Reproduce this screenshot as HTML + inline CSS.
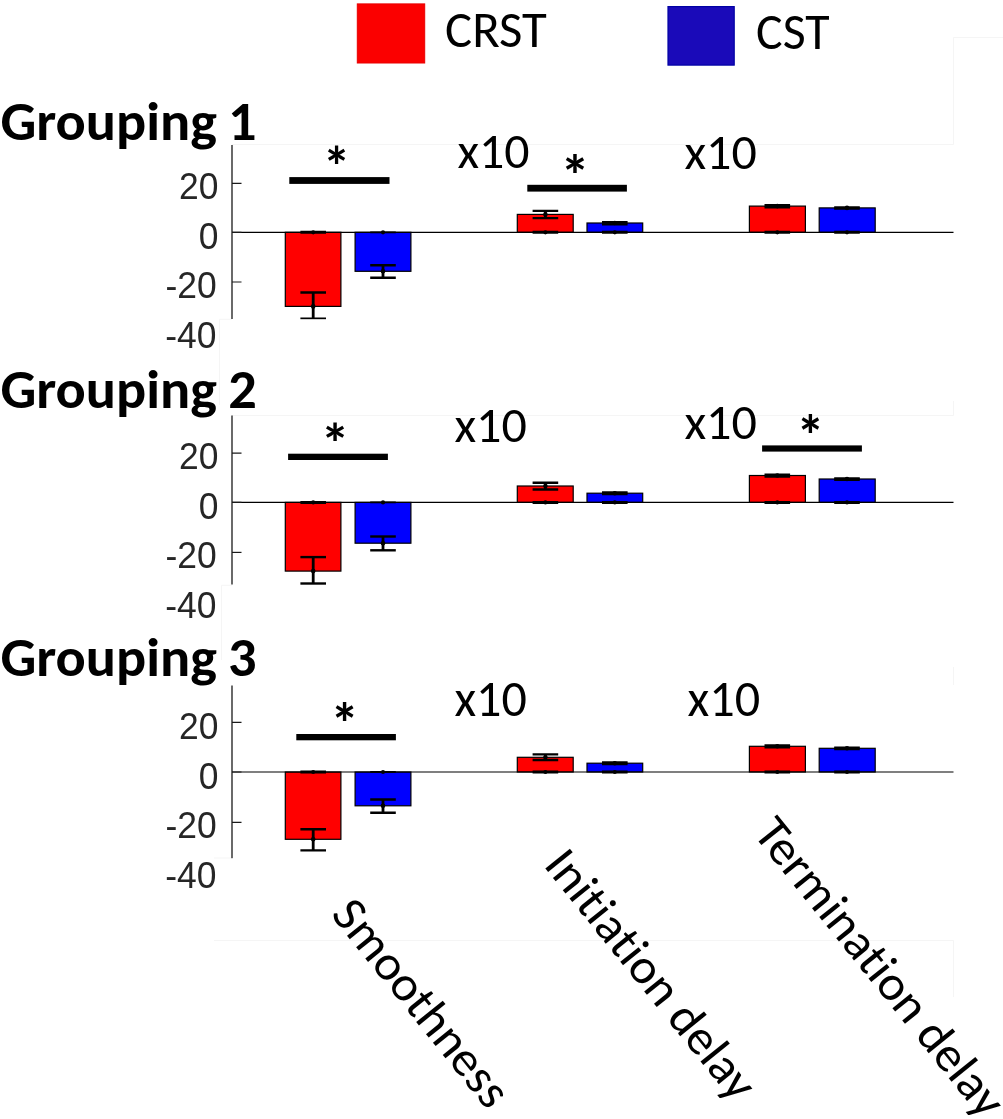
<!DOCTYPE html>
<html><head><meta charset="utf-8"><title>CRST vs CST</title>
<style>html,body{margin:0;padding:0;background:#fff;overflow:hidden}svg{display:block}text{font-variant-ligatures:none;font-feature-settings:"liga" 0,"clig" 0}</style>
</head><body>
<svg width="1003" height="1119" viewBox="0 0 1003 1119">
<rect x="0" y="0" width="1003" height="1119" fill="#fff"/>
<g stroke="#f5f5f5" stroke-width="1" fill="none">
<polyline points="232,144.5 953.5,144.5 953.5,37.5 1003,37.5"/>
<polyline points="232,415.5 953.5,415.5 953.5,401"/>
<polyline points="953.5,667 953.5,685"/>
<polyline points="232,319.3 219.5,319.3 219.5,405"/>
<polyline points="232,585.3 221.5,585.3 221.5,660"/>
<polyline points="232,858 214,858"/>
<polyline points="214,940.5 953.5,940.5 953.5,997"/>
</g>
<rect x="357.3" y="3.9" width="67.4" height="59.1" fill="#fb0000" stroke="#e80000" stroke-width="1"/>
<rect x="668" y="6.6" width="66.2" height="58.5" fill="#1a0ab9" stroke="#0000a4" stroke-width="1.2"/>
<text transform="translate(445.08 46.9) scale(0.992 1)" font-family="Carlito, Liberation Sans, sans-serif" font-size="51.23" fill="#000" id="c0" textLength="102.60" lengthAdjust="spacingAndGlyphs">CRST</text>
<text transform="translate(756.1 49) scale(0.980 1)" font-family="Carlito, Liberation Sans, sans-serif" font-size="50.92" fill="#000" id="c1" textLength="75.01" lengthAdjust="spacingAndGlyphs">CST</text>
<text transform="translate(0.41 139.5) scale(1.0236 1)" font-family="Carlito, Liberation Sans, sans-serif" font-weight="bold" font-size="55.0" fill="#000"><tspan id="c2" textLength="211.58" lengthAdjust="spacingAndGlyphs">Grouping</tspan> <tspan x="222.29">1</tspan></text>
<text transform="translate(0.41 408) scale(1.0236 1)" font-family="Carlito, Liberation Sans, sans-serif" font-weight="bold" font-size="55.0" fill="#000"><tspan id="c3" textLength="211.58" lengthAdjust="spacingAndGlyphs">Grouping</tspan> <tspan x="222.65">2</tspan></text>
<text transform="translate(0.41 676.1) scale(1.0236 1)" font-family="Carlito, Liberation Sans, sans-serif" font-weight="bold" font-size="55.0" fill="#000"><tspan id="c4" textLength="211.58" lengthAdjust="spacingAndGlyphs">Grouping</tspan> <tspan x="222.46">3</tspan></text>
<clipPath id="cp0"><rect x="0" y="85.0" width="1003" height="234.29999999999998"/></clipPath>
<g clip-path="url(#cp0)">
<rect x="285.3" y="232.3" width="55.6" height="74.1" fill="#ff0000" stroke="#000" stroke-width="1.2"/>
<rect x="355.1" y="232.3" width="55.8" height="39" fill="#0000ff" stroke="#000" stroke-width="1.2"/>
<rect x="517.3" y="214.4" width="55.9" height="17.9" fill="#ff0000" stroke="#000" stroke-width="1.2"/>
<rect x="587" y="223" width="55.7" height="9.3" fill="#0000ff" stroke="#000" stroke-width="1.2"/>
<rect x="749.4" y="206.1" width="56" height="26.2" fill="#ff0000" stroke="#000" stroke-width="1.2"/>
<rect x="819.2" y="207.9" width="56" height="24.4" fill="#0000ff" stroke="#000" stroke-width="1.2"/>
<line x1="232" y1="232.3" x2="953.5" y2="232.3" stroke="#000" stroke-width="1.2"/>
<g stroke="#000" stroke-width="2.4" fill="#000"><line x1="313.2" y1="292.5" x2="313.2" y2="318.6" stroke-width="2.8"/><line x1="300.4" y1="292.5" x2="326" y2="292.5"/><line x1="300.4" y1="318.6" x2="326" y2="318.6"/><circle cx="313.2" cy="306.4" r="2.3" stroke="none"/><line x1="300.4" y1="232.3" x2="326" y2="232.3" stroke-width="3.0"/><circle cx="313.2" cy="232.3" r="2.1" stroke="none"/></g>
<g stroke="#000" stroke-width="2.4" fill="#000"><line x1="383" y1="265.2" x2="383" y2="277.8" stroke-width="2.8"/><line x1="370.2" y1="265.2" x2="395.8" y2="265.2"/><line x1="370.2" y1="277.8" x2="395.8" y2="277.8"/><circle cx="383" cy="271.3" r="2.3" stroke="none"/><line x1="370.2" y1="232.3" x2="395.8" y2="232.3" stroke-width="1.8"/><circle cx="383" cy="232.3" r="2.1" stroke="none"/></g>
<g stroke="#000" stroke-width="2.4" fill="#000"><line x1="545.4" y1="210.9" x2="545.4" y2="218.1" stroke-width="2.8"/><line x1="532.6" y1="210.9" x2="558.2" y2="210.9"/><line x1="532.6" y1="218.1" x2="558.2" y2="218.1"/><circle cx="545.4" cy="214.4" r="2.3" stroke="none"/><line x1="532.6" y1="232.3" x2="558.2" y2="232.3" stroke-width="3.0"/><circle cx="545.4" cy="232.3" r="2.1" stroke="none"/></g>
<g stroke="#000" stroke-width="2.4" fill="#000"><line x1="614.8" y1="222.3" x2="614.8" y2="224.4" stroke-width="2.8"/><line x1="602" y1="222.3" x2="627.6" y2="222.3"/><line x1="602" y1="224.4" x2="627.6" y2="224.4"/><circle cx="614.8" cy="223" r="2.3" stroke="none"/><line x1="602" y1="232.3" x2="627.6" y2="232.3" stroke-width="3.0"/><circle cx="614.8" cy="232.3" r="2.1" stroke="none"/></g>
<g stroke="#000" stroke-width="2.4" fill="#000"><line x1="777.3" y1="205.3" x2="777.3" y2="207.3" stroke-width="2.8"/><line x1="764.5" y1="205.3" x2="790.1" y2="205.3"/><line x1="764.5" y1="207.3" x2="790.1" y2="207.3"/><circle cx="777.3" cy="206.1" r="2.3" stroke="none"/><line x1="764.5" y1="232.3" x2="790.1" y2="232.3" stroke-width="3.0"/><circle cx="777.3" cy="232.3" r="2.1" stroke="none"/></g>
<g stroke="#000" stroke-width="2.4" fill="#000"><line x1="847" y1="207.4" x2="847" y2="208.6" stroke-width="2.8"/><line x1="834.2" y1="207.4" x2="859.8" y2="207.4"/><line x1="834.2" y1="208.6" x2="859.8" y2="208.6"/><circle cx="847" cy="207.9" r="2.3" stroke="none"/><line x1="834.2" y1="232.3" x2="859.8" y2="232.3" stroke-width="3.0"/><circle cx="847" cy="232.3" r="2.1" stroke="none"/></g>
<line x1="232.0" y1="145" x2="232.0" y2="318.9" stroke="#1a1a1a" stroke-width="1.3"/>
<line x1="232" y1="183.3" x2="241.5" y2="183.3" stroke="#1a1a1a" stroke-width="1.2"/>
<line x1="232" y1="232.3" x2="241.5" y2="232.3" stroke="#1a1a1a" stroke-width="1.2"/>
<line x1="232" y1="282" x2="241.5" y2="282" stroke="#1a1a1a" stroke-width="1.2"/>
</g>
<text transform="translate(218.5 199) scale(0.945 1)" text-anchor="end" font-family="Liberation Sans, Arial, sans-serif" font-size="37.5" fill="#262626">20</text>
<text transform="translate(218.5 248.6) scale(0.945 1)" text-anchor="end" font-family="Liberation Sans, Arial, sans-serif" font-size="37.5" fill="#262626">0</text>
<text transform="translate(216.7 298.1) scale(0.945 1)" text-anchor="end" font-family="Liberation Sans, Arial, sans-serif" font-size="37.5" fill="#262626">-20</text>
<text transform="translate(216.5 348.1) scale(0.945 1)" text-anchor="end" font-family="Liberation Sans, Arial, sans-serif" font-size="37.5" fill="#262626">-40</text>
<rect x="289.3" y="177.1" width="100.2" height="6.8" fill="#000"/>
<text transform="translate(322.83 186.4) scale(0.973 1)" font-family="Carlito, Liberation Sans, sans-serif" font-weight="bold" font-size="57.19" fill="#000" id="c5" textLength="28.48" lengthAdjust="spacingAndGlyphs">*</text>
<rect x="527.3" y="184.8" width="99.6" height="6.8" fill="#000"/>
<text transform="translate(560.27 196.35) scale(1.026 1)" font-family="Carlito, Liberation Sans, sans-serif" font-weight="bold" font-size="57.81" fill="#000" id="c6" textLength="28.80" lengthAdjust="spacingAndGlyphs">*</text>
<text transform="translate(457.4 168)" font-family="Carlito, Liberation Sans, sans-serif" font-size="49.85" fill="#000" id="c7" textLength="72.12" lengthAdjust="spacingAndGlyphs">x10</text>
<text transform="translate(684.4 168.5)" font-family="Carlito, Liberation Sans, sans-serif" font-size="50" fill="#000" id="c8" textLength="72.34" lengthAdjust="spacingAndGlyphs">x10</text>
<clipPath id="cp1"><rect x="0" y="355.6" width="1003" height="229.29999999999998"/></clipPath>
<g clip-path="url(#cp1)">
<rect x="285.3" y="502.4" width="55.6" height="68.7" fill="#ff0000" stroke="#000" stroke-width="1.2"/>
<rect x="355.1" y="502.4" width="55.8" height="40.8" fill="#0000ff" stroke="#000" stroke-width="1.2"/>
<rect x="517.3" y="486" width="55.9" height="16.4" fill="#ff0000" stroke="#000" stroke-width="1.2"/>
<rect x="587" y="493.2" width="55.7" height="9.2" fill="#0000ff" stroke="#000" stroke-width="1.2"/>
<rect x="749.4" y="475.5" width="56" height="26.9" fill="#ff0000" stroke="#000" stroke-width="1.2"/>
<rect x="819.2" y="479" width="56" height="23.4" fill="#0000ff" stroke="#000" stroke-width="1.2"/>
<line x1="232" y1="502.4" x2="953.5" y2="502.4" stroke="#000" stroke-width="1.2"/>
<g stroke="#000" stroke-width="2.4" fill="#000"><line x1="313.2" y1="557.1" x2="313.2" y2="583.5" stroke-width="2.8"/><line x1="300.4" y1="557.1" x2="326" y2="557.1"/><line x1="300.4" y1="583.5" x2="326" y2="583.5"/><circle cx="313.2" cy="571.1" r="2.3" stroke="none"/><line x1="300.4" y1="502.4" x2="326" y2="502.4" stroke-width="3.0"/><circle cx="313.2" cy="502.4" r="2.1" stroke="none"/></g>
<g stroke="#000" stroke-width="2.4" fill="#000"><line x1="383" y1="536.5" x2="383" y2="550.3" stroke-width="2.8"/><line x1="370.2" y1="536.5" x2="395.8" y2="536.5"/><line x1="370.2" y1="550.3" x2="395.8" y2="550.3"/><circle cx="383" cy="543.2" r="2.3" stroke="none"/><line x1="370.2" y1="502.4" x2="395.8" y2="502.4" stroke-width="1.8"/><circle cx="383" cy="502.4" r="2.1" stroke="none"/></g>
<g stroke="#000" stroke-width="2.4" fill="#000"><line x1="545.4" y1="482.7" x2="545.4" y2="489.5" stroke-width="2.8"/><line x1="532.6" y1="482.7" x2="558.2" y2="482.7"/><line x1="532.6" y1="489.5" x2="558.2" y2="489.5"/><circle cx="545.4" cy="486" r="2.3" stroke="none"/><line x1="532.6" y1="502.4" x2="558.2" y2="502.4" stroke-width="3.0"/><circle cx="545.4" cy="502.4" r="2.1" stroke="none"/></g>
<g stroke="#000" stroke-width="2.4" fill="#000"><line x1="614.8" y1="492.5" x2="614.8" y2="494" stroke-width="2.8"/><line x1="602" y1="492.5" x2="627.6" y2="492.5"/><line x1="602" y1="494" x2="627.6" y2="494"/><circle cx="614.8" cy="493.2" r="2.3" stroke="none"/><line x1="602" y1="502.4" x2="627.6" y2="502.4" stroke-width="3.0"/><circle cx="614.8" cy="502.4" r="2.1" stroke="none"/></g>
<g stroke="#000" stroke-width="2.4" fill="#000"><line x1="777.3" y1="474.8" x2="777.3" y2="476.5" stroke-width="2.8"/><line x1="764.5" y1="474.8" x2="790.1" y2="474.8"/><line x1="764.5" y1="476.5" x2="790.1" y2="476.5"/><circle cx="777.3" cy="475.5" r="2.3" stroke="none"/><line x1="764.5" y1="502.4" x2="790.1" y2="502.4" stroke-width="3.0"/><circle cx="777.3" cy="502.4" r="2.1" stroke="none"/></g>
<g stroke="#000" stroke-width="2.4" fill="#000"><line x1="847" y1="478.5" x2="847" y2="479.7" stroke-width="2.8"/><line x1="834.2" y1="478.5" x2="859.8" y2="478.5"/><line x1="834.2" y1="479.7" x2="859.8" y2="479.7"/><circle cx="847" cy="479" r="2.3" stroke="none"/><line x1="834.2" y1="502.4" x2="859.8" y2="502.4" stroke-width="3.0"/><circle cx="847" cy="502.4" r="2.1" stroke="none"/></g>
<line x1="232.0" y1="415.6" x2="232.0" y2="584.5" stroke="#1a1a1a" stroke-width="1.3"/>
<line x1="232" y1="453.2" x2="241.5" y2="453.2" stroke="#1a1a1a" stroke-width="1.2"/>
<line x1="232" y1="502.4" x2="241.5" y2="502.4" stroke="#1a1a1a" stroke-width="1.2"/>
<line x1="232" y1="552.4" x2="241.5" y2="552.4" stroke="#1a1a1a" stroke-width="1.2"/>
</g>
<text transform="translate(218.5 469.2) scale(0.945 1)" text-anchor="end" font-family="Liberation Sans, Arial, sans-serif" font-size="37.5" fill="#262626">20</text>
<text transform="translate(218.5 518.8) scale(0.945 1)" text-anchor="end" font-family="Liberation Sans, Arial, sans-serif" font-size="37.5" fill="#262626">0</text>
<text transform="translate(216.7 568.3) scale(0.945 1)" text-anchor="end" font-family="Liberation Sans, Arial, sans-serif" font-size="37.5" fill="#262626">-20</text>
<text transform="translate(216.5 618.3) scale(0.945 1)" text-anchor="end" font-family="Liberation Sans, Arial, sans-serif" font-size="37.5" fill="#262626">-40</text>
<rect x="288.1" y="453.7" width="99.8" height="6.3" fill="#000"/>
<text transform="translate(320.53 463.4) scale(1.026 1)" font-family="Carlito, Liberation Sans, sans-serif" font-weight="bold" font-size="57.19" fill="#000" id="c9" textLength="28.49" lengthAdjust="spacingAndGlyphs">*</text>
<rect x="762.1" y="445.4" width="99.8" height="6.2" fill="#000"/>
<text transform="translate(796.2 455.91) scale(0.970 1)" font-family="Carlito, Liberation Sans, sans-serif" font-weight="bold" font-size="58.75" fill="#000" id="c10" textLength="29.26" lengthAdjust="spacingAndGlyphs">*</text>
<text transform="translate(454.4 442) scale(1.014 1)" font-family="Carlito, Liberation Sans, sans-serif" font-size="49.38" fill="#000" id="c11" textLength="71.44" lengthAdjust="spacingAndGlyphs">x10</text>
<text transform="translate(684.4 439)" font-family="Carlito, Liberation Sans, sans-serif" font-size="50.15" fill="#000" id="c12" textLength="72.55" lengthAdjust="spacingAndGlyphs">x10</text>
<clipPath id="cp2"><rect x="0" y="625.6" width="1003" height="233.09999999999994"/></clipPath>
<g clip-path="url(#cp2)">
<rect x="285.3" y="772" width="55.6" height="67.3" fill="#ff0000" stroke="#000" stroke-width="1.2"/>
<rect x="355.1" y="772" width="55.8" height="33.8" fill="#0000ff" stroke="#000" stroke-width="1.2"/>
<rect x="517.3" y="757.3" width="55.9" height="14.7" fill="#ff0000" stroke="#000" stroke-width="1.2"/>
<rect x="587" y="763.2" width="55.7" height="8.8" fill="#0000ff" stroke="#000" stroke-width="1.2"/>
<rect x="749.4" y="746.3" width="56" height="25.7" fill="#ff0000" stroke="#000" stroke-width="1.2"/>
<rect x="819.2" y="748.3" width="56" height="23.7" fill="#0000ff" stroke="#000" stroke-width="1.2"/>
<line x1="232" y1="772" x2="953.5" y2="772" stroke="#000" stroke-width="1.2"/>
<g stroke="#000" stroke-width="2.4" fill="#000"><line x1="313.2" y1="829.2" x2="313.2" y2="850.4" stroke-width="2.8"/><line x1="300.4" y1="829.2" x2="326" y2="829.2"/><line x1="300.4" y1="850.4" x2="326" y2="850.4"/><circle cx="313.2" cy="839.3" r="2.3" stroke="none"/><line x1="300.4" y1="772" x2="326" y2="772" stroke-width="3.0"/><circle cx="313.2" cy="772" r="2.1" stroke="none"/></g>
<g stroke="#000" stroke-width="2.4" fill="#000"><line x1="383" y1="799.5" x2="383" y2="812.7" stroke-width="2.8"/><line x1="370.2" y1="799.5" x2="395.8" y2="799.5"/><line x1="370.2" y1="812.7" x2="395.8" y2="812.7"/><circle cx="383" cy="805.8" r="2.3" stroke="none"/><line x1="370.2" y1="772" x2="395.8" y2="772" stroke-width="1.8"/><circle cx="383" cy="772" r="2.1" stroke="none"/></g>
<g stroke="#000" stroke-width="2.4" fill="#000"><line x1="545.4" y1="754.4" x2="545.4" y2="760" stroke-width="2.8"/><line x1="532.6" y1="754.4" x2="558.2" y2="754.4"/><line x1="532.6" y1="760" x2="558.2" y2="760"/><circle cx="545.4" cy="757.3" r="2.3" stroke="none"/><line x1="532.6" y1="772" x2="558.2" y2="772" stroke-width="3.0"/><circle cx="545.4" cy="772" r="2.1" stroke="none"/></g>
<g stroke="#000" stroke-width="2.4" fill="#000"><line x1="614.8" y1="762.5" x2="614.8" y2="764" stroke-width="2.8"/><line x1="602" y1="762.5" x2="627.6" y2="762.5"/><line x1="602" y1="764" x2="627.6" y2="764"/><circle cx="614.8" cy="763.2" r="2.3" stroke="none"/><line x1="602" y1="772" x2="627.6" y2="772" stroke-width="3.0"/><circle cx="614.8" cy="772" r="2.1" stroke="none"/></g>
<g stroke="#000" stroke-width="2.4" fill="#000"><line x1="777.3" y1="745.5" x2="777.3" y2="747.3" stroke-width="2.8"/><line x1="764.5" y1="745.5" x2="790.1" y2="745.5"/><line x1="764.5" y1="747.3" x2="790.1" y2="747.3"/><circle cx="777.3" cy="746.3" r="2.3" stroke="none"/><line x1="764.5" y1="772" x2="790.1" y2="772" stroke-width="3.0"/><circle cx="777.3" cy="772" r="2.1" stroke="none"/></g>
<g stroke="#000" stroke-width="2.4" fill="#000"><line x1="847" y1="747.8" x2="847" y2="749" stroke-width="2.8"/><line x1="834.2" y1="747.8" x2="859.8" y2="747.8"/><line x1="834.2" y1="749" x2="859.8" y2="749"/><circle cx="847" cy="748.3" r="2.3" stroke="none"/><line x1="834.2" y1="772" x2="859.8" y2="772" stroke-width="3.0"/><circle cx="847" cy="772" r="2.1" stroke="none"/></g>
<line x1="232.0" y1="685.6" x2="232.0" y2="858.3" stroke="#1a1a1a" stroke-width="1.3"/>
<line x1="232" y1="722.3" x2="241.5" y2="722.3" stroke="#1a1a1a" stroke-width="1.2"/>
<line x1="232" y1="772" x2="241.5" y2="772" stroke="#1a1a1a" stroke-width="1.2"/>
<line x1="232" y1="822.3" x2="241.5" y2="822.3" stroke="#1a1a1a" stroke-width="1.2"/>
</g>
<text transform="translate(218.5 739) scale(0.945 1)" text-anchor="end" font-family="Liberation Sans, Arial, sans-serif" font-size="37.5" fill="#262626">20</text>
<text transform="translate(218.5 788.6) scale(0.945 1)" text-anchor="end" font-family="Liberation Sans, Arial, sans-serif" font-size="37.5" fill="#262626">0</text>
<text transform="translate(216.7 838.1) scale(0.945 1)" text-anchor="end" font-family="Liberation Sans, Arial, sans-serif" font-size="37.5" fill="#262626">-20</text>
<text transform="translate(216.5 888.1) scale(0.945 1)" text-anchor="end" font-family="Liberation Sans, Arial, sans-serif" font-size="37.5" fill="#262626">-40</text>
<rect x="296.3" y="734" width="99.6" height="6.3" fill="#000"/>
<text transform="translate(330.13 744.31) scale(0.982 1)" font-family="Carlito, Liberation Sans, sans-serif" font-weight="bold" font-size="58.75" fill="#000" id="c13" textLength="29.26" lengthAdjust="spacingAndGlyphs">*</text>
<text transform="translate(454.4 715.8) scale(0.977 1)" font-family="Carlito, Liberation Sans, sans-serif" font-size="51.23" fill="#000" id="c14" textLength="74.10" lengthAdjust="spacingAndGlyphs">x10</text>
<text transform="translate(687.5 715.8) scale(0.980 1)" font-family="Carlito, Liberation Sans, sans-serif" font-size="51.23" fill="#000" id="c15" textLength="74.13" lengthAdjust="spacingAndGlyphs">x10</text>
<text transform="translate(330.07 914.82) rotate(51.2) scale(1 0.97)" font-family="Carlito, Liberation Sans, sans-serif" font-size="50.6" fill="#000" id="c16" textLength="251.83" lengthAdjust="spacingAndGlyphs">Smoothness</text>
<text transform="translate(542.7 865.23) rotate(51.2) scale(1 0.97)" font-family="Carlito, Liberation Sans, sans-serif" font-size="50.6" fill="#000" id="c17" textLength="306.01" lengthAdjust="spacingAndGlyphs">Initiation delay</text>
<text transform="translate(752.17 833.69) rotate(51.2) scale(1 0.97)" font-family="Carlito, Liberation Sans, sans-serif" font-size="50.6" fill="#000" id="c18" textLength="368.07" lengthAdjust="spacingAndGlyphs">Termination delay</text>
</svg>
</body></html>
